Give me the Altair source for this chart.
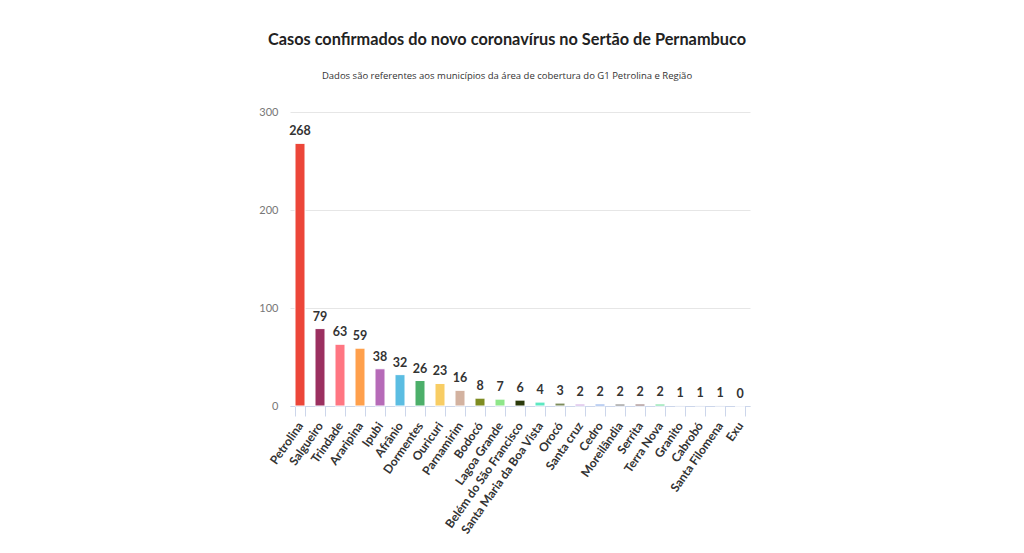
import altair as alt
import pandas as pd

municipios = ["Petrolina", "Salgueiro", "Trindade", "Araripina", "Ipubi", "Afrânio",
              "Dormentes", "Ouricuri", "Parnamirim", "Bodocó", "Lagoa Grande",
              "Belém do São Francisco", "Santa Maria da Boa Vista", "Orocó",
              "Santa cruz", "Cedro", "Moreilândia", "Serrita", "Terra Nova",
              "Granito", "Cabrobó", "Santa Filomena", "Exu"]
casos = [268, 79, 63, 59, 38, 32, 26, 23, 16, 8, 7, 6, 4, 3, 2, 2, 2, 2, 2, 1, 1, 1, 0]
cores = ["#ec4639", "#9b3060", "#ff7682", "#ffa04c", "#b66bb8", "#5bbde2",
         "#4caf6a", "#f8cd64", "#d3b2a0", "#7e8c22", "#8ee68a", "#2b3a0b",
         "#5de8c2", "#7d8c5c", "#c9a2e0", "#7ca2e6", "#707070", "#846464",
         "#62d990", "#f2f2f2", "#f2f2f2", "#f2f2f2", "#f2f2f2"]

df = pd.DataFrame({"municipio": municipios, "casos": casos, "cor": cores})

FONT = "Open Sans"
NARROW = "Lato"

base = alt.Chart(df).encode(
    x=alt.X("municipio:N", sort=municipios, title=None,
            scale=alt.Scale(paddingInner=0.5, paddingOuter=0.25),
            axis=alt.Axis(labelAngle=-55, labelFontSize=12, labelFontWeight="bold",
                          labelColor="#333333", labelFont=NARROW, domainColor="#ccd6eb",
                          tickColor="#ccd6eb", tickSize=10, tickBand="extent",
                          labelPadding=7, grid=False, labelOverlap=False)),
    y=alt.Y("casos:Q", title=None,
            scale=alt.Scale(domain=[0, 300]),
            axis=alt.Axis(values=[0, 100, 200, 300], labelColor="#777777", labelFontSize=11,
                          labelFont=NARROW, domain=False, ticks=False, gridColor="#e6e6e6",
                          labelPadding=12)),
)

bars = base.mark_bar(stroke="white", strokeWidth=1).encode(
    color=alt.Color("cor:N", scale=None)
)

labels = base.mark_text(dy=-12, fontSize=12.5, fontWeight="bold", color="#333333",
                        font=NARROW).encode(text="casos:Q")

chart = (bars + labels).properties(
    width=460, height=294,
    padding={"left": 282, "top": 104, "right": 250, "bottom": 145},
    autosize=alt.AutoSizeParams(type="none"),
    title=alt.TitleParams(
        text="Casos confirmados do novo coronavírus no Sertão de Pernambuco",
        subtitle="Dados são referentes aos municípios da área de cobertura do G1 Petrolina e Região",
        font=NARROW, fontSize=16.3, fontWeight="bold", color="#222222",
        subtitleFont=FONT, subtitleFontSize=9.5, subtitleColor="#333333",
        subtitlePadding=22, anchor="middle", dx=-13, offset=26),
).configure_view(stroke=None)

chart.save("out.html", embed_options={"renderer": "svg", "actions": False})
